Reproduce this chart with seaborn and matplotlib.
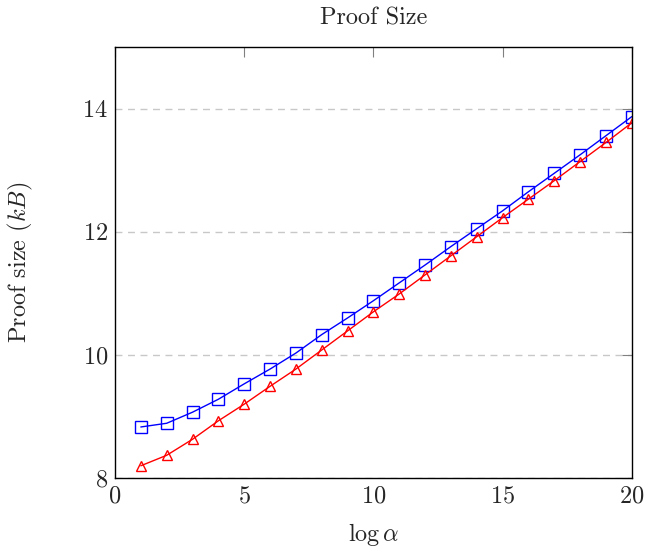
import matplotlib
matplotlib.use("Agg")
import matplotlib.pyplot as plt
import pandas as pd
import seaborn as sns

sns.set_theme(style="white")
plt.rcParams["font.family"] = ["cmr10", "DejaVu Serif"]
plt.rcParams["mathtext.fontset"] = "cm"
plt.rcParams["axes.formatter.use_mathtext"] = True

LOG_ALPHA = list(range(1, 21))
SIZE_SQUARE = [8.83, 8.89, 9.07, 9.28, 9.53, 9.77, 10.03, 10.33, 10.60, 10.88,
               11.17, 11.46, 11.76, 12.05, 12.34, 12.65, 12.95, 13.25, 13.56, 13.87]
SIZE_TRIANGLE = [8.20, 8.37, 8.63, 8.93, 9.20, 9.49, 9.77, 10.08, 10.39, 10.70,
                 10.99, 11.30, 11.61, 11.92, 12.23, 12.53, 12.83, 13.14, 13.45, 13.77]
X_TICKS = [0, 5, 10, 15, 20]
Y_TICKS = [8, 10, 12, 14]

FS = 17.5


def plot_proof_size() -> None:
    fig = plt.figure(figsize=(6.46, 5.47), dpi=100)
    ax = fig.add_axes([0.178, 0.126, 0.800, 0.788])

    df = pd.DataFrame({"x": LOG_ALPHA, "sq": SIZE_SQUARE, "tri": SIZE_TRIANGLE})
    sns.lineplot(data=df, x="x", y="sq", ax=ax, color="blue", lw=1.0,
                 marker="s", markersize=8, markerfacecolor="none",
                 markeredgecolor="blue", markeredgewidth=1.0)
    sns.lineplot(data=df, x="x", y="tri", ax=ax, color="red", lw=1.0,
                 marker="^", markersize=7, markerfacecolor="none",
                 markeredgecolor="red", markeredgewidth=1.0)

    ax.set_xlim(0, 20)
    ax.set_ylim(8, 15)
    ax.set_xticks(X_TICKS)
    ax.set_yticks(Y_TICKS)
    ax.yaxis.grid(True, color="#c8c8c8", linestyle=(0, (5, 4)), lw=1.0)
    ax.xaxis.grid(False)
    ax.tick_params(direction="in", length=7, color="#808080", width=0.8,
                   top=True, right=True, labelsize=FS, pad=5)
    for s in ax.spines.values():
        s.set_color("black")
        s.set_linewidth(1.0)

    ax.set_title("Proof Size", fontsize=FS, pad=16)
    ax.set_xlabel(r"$\log\alpha$", fontsize=FS, labelpad=10)
    ax.set_ylabel(r"Proof size ($kB$)", fontsize=FS, labelpad=34)

    fig.savefig("out.png", dpi=100)
    plt.close(fig)


if __name__ == "__main__":
    plot_proof_size()
